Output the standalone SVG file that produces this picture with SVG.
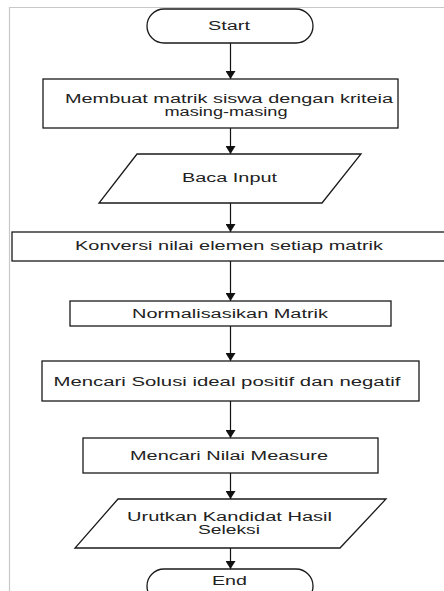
<svg xmlns="http://www.w3.org/2000/svg" width="444" height="591" viewBox="0 0 444 591">
<style>
.shape{fill:#fff;stroke:#1a1a1a;stroke-width:1.3}
.conn{stroke:#111;stroke-width:1.2;fill:none;marker-end:url(#ah)}
text{font-family:"Liberation Sans",Arial,sans-serif;font-size:12px;fill:#222;text-anchor:middle}
.frame{stroke:#c8c8c8;stroke-width:1.2;fill:none}
</style>
<defs>
<marker id="ah" viewBox="0 0 8 10" refX="8" refY="5" markerWidth="8" markerHeight="10" markerUnits="userSpaceOnUse" orient="auto">
<path d="M0,0 L8,5 L0,10 z" fill="#111"/>
</marker>
</defs>
<rect width="444" height="591" fill="#fff"/>
<path class="frame" d="M9.5,591 V7.5 H444"/>
<g id="connectors">
<line class="conn" x1="230.5" y1="43" x2="230.5" y2="79"/>
<line class="conn" x1="230.5" y1="128" x2="230.5" y2="154"/>
<line class="conn" x1="230.5" y1="203" x2="230.5" y2="232"/>
<line class="conn" x1="230.5" y1="261" x2="230.5" y2="301"/>
<line class="conn" x1="230.5" y1="326" x2="230.5" y2="361"/>
<line class="conn" x1="230.5" y1="401" x2="230.5" y2="438"/>
<line class="conn" x1="230.5" y1="473" x2="230.5" y2="499"/>
<line class="conn" x1="230.5" y1="548" x2="230.5" y2="569"/>
</g>
<g id="start">
<rect class="shape" x="147" y="9" width="166" height="34" rx="17" ry="17"/>
<text x="229" y="29.5" textLength="42" lengthAdjust="spacingAndGlyphs">Start</text>
</g>
<g id="membuat">
<rect class="shape" x="43" y="79" width="355" height="49"/>
<text x="229" y="102.5" textLength="328" lengthAdjust="spacingAndGlyphs">Membuat matrik siswa dengan kriteia</text>
<text x="226" y="115.5" textLength="123" lengthAdjust="spacingAndGlyphs">masing-masing</text>
</g>
<g id="baca">
<polygon class="shape" points="137,154 361,154 322,203 99,203"/>
<text x="229.5" y="182" textLength="95" lengthAdjust="spacingAndGlyphs">Baca Input</text>
</g>
<g id="konversi">
<rect class="shape" x="12" y="232" width="436" height="29"/>
<text x="229" y="249.5" textLength="308" lengthAdjust="spacingAndGlyphs">Konversi nilai elemen setiap matrik</text>
</g>
<g id="normalisasi">
<rect class="shape" x="70" y="301" width="321" height="25"/>
<text x="230" y="317.5" textLength="196" lengthAdjust="spacingAndGlyphs">Normalisasikan Matrik</text>
</g>
<g id="solusi">
<rect class="shape" x="42" y="361" width="377" height="40"/>
<text x="227" y="385.5" textLength="347" lengthAdjust="spacingAndGlyphs">Mencari Solusi ideal positif dan negatif</text>
</g>
<g id="measure">
<rect class="shape" x="83" y="438" width="295" height="35"/>
<text x="229" y="459.5" textLength="198" lengthAdjust="spacingAndGlyphs">Mencari Nilai Measure</text>
</g>
<g id="urutkan">
<polygon class="shape" points="118,499 386,499 340,548 75,548"/>
<text x="229.5" y="520.5" textLength="205" lengthAdjust="spacingAndGlyphs">Urutkan Kandidat Hasil</text>
<text x="229" y="533.5" textLength="62" lengthAdjust="spacingAndGlyphs">Seleksi</text>
</g>
<g id="end">
<rect class="shape" x="147" y="569" width="166" height="34" rx="17" ry="17"/>
<text x="229.5" y="584.5" textLength="35" lengthAdjust="spacingAndGlyphs">End</text>
</g>
</svg>
